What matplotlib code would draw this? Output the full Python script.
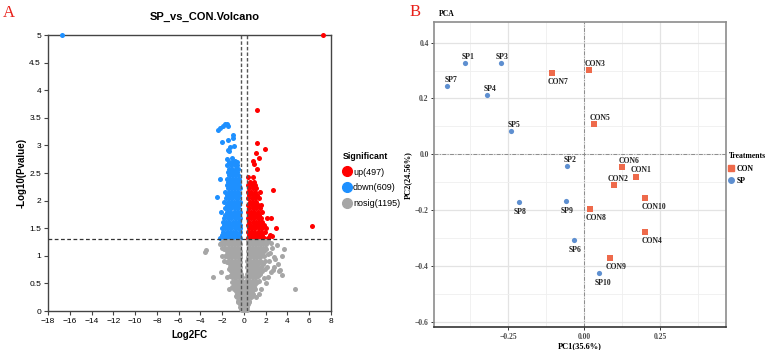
import matplotlib
matplotlib.use('Agg')
import matplotlib.pyplot as plt
from matplotlib.lines import Line2D

# ---------------- Panel A: volcano (Log2FC, -log10 Pvalue) ----------------
# rows: -log10(P) -> list of Log2FC values
up_rows = {
    1.32: [0.35, 0.65, 0.95, 1.25, 1.55, 1.85, 2.2],
    1.38: [0.5, 0.8, 1.1, 1.4, 1.7, 2.4],
    1.44: [0.35, 0.65, 0.95, 1.25, 1.55, 1.9],
    1.50: [0.45, 0.75, 1.05, 1.35, 1.65, 2.0, 2.96],
    1.56: [0.35, 0.6, 0.9, 1.2, 1.5, 1.8],
    1.62: [0.5, 0.8, 1.1, 1.4, 1.7],
    1.68: [0.35, 0.65, 0.95, 1.25, 1.55, 2.11, 2.48],
    1.74: [0.5, 0.8, 1.1, 1.4],
    1.80: [0.35, 0.65, 0.95, 1.3, 1.65],
    1.86: [0.5, 0.8, 1.1, 1.45],
    1.92: [0.35, 0.7, 1.0, 1.3, 1.6],
    1.98: [0.55, 0.85, 1.15],
    2.04: [0.35, 0.7, 1.0, 1.35],
    2.10: [0.5, 0.85, 1.2],
    2.16: [0.35, 0.65, 1.0, 1.5],
    2.22: [0.5, 0.8, 1.15],
    2.28: [0.35, 0.7, 1.05],
    2.34: [0.55, 0.9],
    2.42: [0.4, 0.87],
}
up_extra = [(2.66, 2.19), (6.25, 1.54), (2.57, 1.35), (0.82, 2.72), (0.94, 2.66),
            (1.19, 2.57), (1.24, 3.65), (1.24, 3.05), (1.95, 2.93), (1.10, 2.87),
            (1.43, 2.78), (7.23, 5.0)]

down_rows = {
    1.32: [-2.2, -1.85, -1.55, -1.2, -0.9, -0.6, -0.35],
    1.38: [-2.0, -1.7, -1.4, -1.05, -0.75, -0.45],
    1.44: [-1.9, -1.6, -1.3, -1.0, -0.7, -0.38],
    1.50: [-2.05, -1.75, -1.45, -1.15, -0.85, -0.55, -0.33],
    1.56: [-1.85, -1.5, -1.2, -0.9, -0.6, -0.4],
    1.62: [-1.95, -1.65, -1.35, -1.0, -0.7, -0.45],
    1.68: [-1.8, -1.5, -1.15, -0.85, -0.55, -0.35],
    1.74: [-1.7, -1.4, -1.1, -0.8, -0.5],
    1.80: [-2.1, -1.6, -1.3, -0.95, -0.65, -0.4],
    1.86: [-1.75, -1.45, -1.15, -0.85, -0.55],
    1.92: [-1.6, -1.3, -1.0, -0.7, -0.45],
    1.98: [-1.8, -1.5, -1.2, -0.9, -0.6, -0.36],
    2.04: [-1.65, -1.35, -1.05, -0.75, -0.5],
    2.10: [-1.55, -1.25, -0.95, -0.65, -0.42],
    2.16: [-1.7, -1.4, -1.1, -0.8, -0.55],
    2.22: [-1.5, -1.2, -0.9, -0.6, -0.4],
    2.28: [-1.6, -1.3, -1.0, -0.7, -0.48],
    2.34: [-1.45, -1.15, -0.85, -0.55],
    2.40: [-2.2, -1.6, -1.3, -1.0, -0.7, -0.45],
    2.46: [-1.4, -1.1, -0.8, -0.55],
    2.52: [-1.5, -1.2, -0.9, -0.6],
    2.58: [-1.35, -1.05, -0.75, -0.5],
    2.64: [-1.55, -1.2, -0.85, -0.6],
    2.70: [-1.4, -1.1, -0.8, -0.65],
}
down_extra = [(-2.44, 2.07), (-2.19, 3.31), (-1.94, 3.35), (-1.73, 3.39), (-1.55, 3.38),
              (-1.48, 3.36), (-2.35, 3.27), (-2.04, 3.07), (-1.43, 3.10), (-1.02, 3.19),
              (-0.97, 3.13), (-1.48, 2.92), (-1.27, 2.98), (-0.87, 2.99), (-1.35, 2.90),
              (-1.57, 2.76), (-1.11, 2.78), (-0.81, 2.72), (-16.7, 5.0)]

nosig_rows = {
    1.27: [-1.95, -1.65, -1.35, -1.05, -0.75, -0.45, 0.4, 0.7, 1.0, 1.3, 1.6, 1.9, 2.2],
    1.24: [-2.1, -1.5, -1.2, -0.9, -0.55, 0.5, 0.85, 1.2, 1.5, 1.85, 2.45],
    1.21: [-1.8, -1.5, -1.2, -0.9, -0.6, -0.35, 0.35, 0.55, 0.85, 1.15, 1.45, 1.75, 2.05],
    1.15: [-1.7, -1.4, -1.1, -0.8, -0.5, 0.45, 0.7, 1.0, 1.3, 1.6, 1.9],
    1.12: [-1.85, -1.55, -1.25, -0.95, -0.6, 0.55, 0.85, 1.15, 1.45, 1.75, 2.05],
    1.09: [-1.6, -1.3, -1.0, -0.7, -0.4, 0.35, 0.6, 0.9, 1.2, 1.5, 1.8],
    1.03: [-1.55, -1.25, -0.95, -0.65, -0.38, 0.45, 0.75, 1.05, 1.35, 1.65, 2.2],
    1.00: [-1.7, -1.3, -1.05, -0.75, -0.45, 0.5, 0.8, 1.1, 1.4, 1.8],
    0.97: [-1.45, -1.15, -0.85, -0.55, -0.32, 0.35, 0.6, 0.9, 1.2, 1.5],
    0.91: [-1.4, -1.1, -0.8, -0.5, 0.3, 0.55, 0.85, 1.15, 1.45, 1.9],
    0.88: [-1.55, -1.2, -0.9, -0.6, -0.35, 0.5, 0.8, 1.1, 1.4, 1.6],
    0.85: [-1.3, -1.0, -0.7, -0.45, 0.4, 0.7, 1.0, 1.3, 1.75],
    0.79: [-1.25, -0.95, -0.65, -0.35, 0.3, 0.6, 0.9, 1.2, 1.55],
    0.76: [-1.4, -1.1, -0.8, -0.5, 0.45, 0.75, 1.05, 1.4, 1.9],
    0.73: [-1.2, -0.9, -0.6, -0.32, 0.35, 0.65, 0.95, 1.3, 1.7],
    0.67: [-1.1, -0.8, -0.5, -0.28, 0.3, 0.55, 0.85, 1.15, 1.45],
    0.64: [-1.25, -0.95, -0.65, -0.38, 0.4, 0.7, 1.0, 1.3],
    0.61: [-1.05, -0.75, -0.45, -0.22, 0.25, 0.5, 0.8, 1.1],
    0.55: [-0.95, -0.7, -0.42, -0.2, 0.2, 0.45, 0.75, 1.05, 1.4],
    0.52: [-1.1, -0.8, -0.55, -0.3, 0.32, 0.6, 0.9, 1.2],
    0.49: [-0.9, -0.65, -0.38, -0.15, 0.2, 0.45, 0.7, 1.0],
    0.43: [-0.85, -0.55, -0.3, -0.1, 0.15, 0.4, 0.65, 0.9],
    0.40: [-0.95, -0.65, -0.4, -0.2, 0.3, 0.55, 0.8, 1.05],
    0.37: [-0.75, -0.5, -0.25, 0.0, 0.25, 0.5, 0.75],
    0.31: [-0.65, -0.4, -0.15, 0.1, 0.35, 0.6, 0.85],
    0.28: [-0.75, -0.5, -0.25, 0.0, 0.25, 0.5, 0.75],
    0.25: [-0.6, -0.35, -0.1, 0.15, 0.4, 0.65, 1.1],
    0.19: [-0.5, -0.25, 0.0, 0.25, 0.5],
    0.16: [-0.55, -0.3, -0.05, 0.2, 0.45],
    0.13: [-0.4, -0.15, 0.1, 0.35],
    0.10: [-0.25, 0.0, 0.2],
    0.07: [-0.35, -0.1, 0.15, 0.3],
    0.04: [-0.3, -0.05, 0.15],
    0.02: [-0.2, 0.05, 0.25],
}
nosig_extra = [(-3.57, 1.07), (-3.45, 1.10), (-2.04, 1.14), (-2.86, 0.62), (-2.13, 0.71),
               (-1.11, 0.44), (3.03, 1.20), (3.70, 1.12), (3.49, 1.00), (2.72, 0.98),
               (3.33, 0.74), (3.49, 0.66), (4.71, 0.40), (2.1, 0.80), (2.5, 0.70),
               (2.3, 0.90), (1.8, 0.60), (2.8, 0.80), (2.4, 1.05), (2.6, 1.15),
               (2.9, 0.95), (3.1, 0.85), (2.2, 0.62), (2.0, 0.50), (2.7, 0.75),
               (3.2, 0.72), (1.6, 0.40), (1.35, 0.30), (-2.0, 1.0), (-1.8, 0.90),
               (-2.2, 1.22), (-1.6, 0.62), (-1.35, 0.40)]

legend_labels = ['up(497)', 'down(609)', 'nosig(1195)']
volcano_colors = ['#FF0000', '#1E90FF', '#A6A6A6']


def flatten(rows, extra):
    xs, ys = [], []
    for y, row in rows.items():
        xs += row
        ys += [y] * len(row)
    for x, y in extra:
        xs.append(x)
        ys.append(y)
    return xs, ys


# ---------------- Panel B: PCA ----------------
samples = ['SP1', 'SP2', 'SP3', 'SP4', 'SP5', 'SP6', 'SP7', 'SP8', 'SP9', 'SP10',
           'CON1', 'CON2', 'CON3', 'CON4', 'CON5', 'CON6', 'CON7', 'CON8', 'CON9', 'CON10']
group = ['SP'] * 10 + ['CON'] * 10
pc1 = [-0.393, -0.057, -0.275, -0.320, -0.239, -0.034, -0.452, -0.213, -0.060, 0.048,
       0.172, 0.099, 0.016, 0.202, 0.034, 0.125, -0.105, 0.019, 0.086, 0.202]
pc2 = [0.326, -0.043, 0.327, 0.213, 0.084, -0.308, 0.244, -0.171, -0.168, -0.424,
       -0.080, -0.109, 0.302, -0.280, 0.109, -0.044, 0.290, -0.196, -0.372, -0.158]

# label nudges in pixels (dx right, dy up)
nudge = {'SP1': (3, 6), 'SP2': (3, 6), 'SP3': (2, 6), 'SP4': (3, 6), 'SP5': (3, 6),
         'SP6': (1, -10), 'SP7': (4, 6), 'SP8': (1, -10), 'SP9': (1, -10), 'SP10': (4, -10),
         'CON1': (5, 6.5), 'CON2': (4, 6), 'CON3': (6, 6), 'CON4': (7, -9), 'CON5': (6, 6),
         'CON6': (7, 5.5), 'CON7': (6, -9), 'CON8': (6, -9), 'CON9': (6, -9), 'CON10': (8, -9)}

pca_colors = {'CON': '#EE6A4B', 'SP': '#5E8FD0'}
pca_markers = {'CON': 's', 'SP': 'o'}

# ---------------- figure ----------------
fig = plt.figure(figsize=(7.67, 3.5), dpi=100)
W, H = 767, 350


def px_axes(l, t, r, b):
    return fig.add_axes([l / W, 1 - b / H, (r - l) / W, (b - t) / H])


sans = 'Liberation Sans'
serif = 'Liberation Serif'

# ---- A ----
ax = px_axes(48, 35, 331, 311)
for (rows, extra), c in zip([(up_rows, up_extra), (down_rows, down_extra),
                             (nosig_rows, nosig_extra)], volcano_colors):
    xs, ys = flatten(rows, extra)
    ax.scatter(xs, ys, s=13, color=c, linewidths=0, clip_on=False, zorder=3)

ax.axhline(1.301, color='#333333', lw=0.9, ls=(0, (3, 2)), zorder=4)
for v in (-0.263, 0.263):
    ax.axvline(v, color='#555555', lw=1.0, ls=(0, (2.5, 1.5)), zorder=4)

ax.set_xlim(-18, 8)
ax.set_ylim(0, 5)
ax.set_xticks(range(-18, 9, 2))
ax.set_yticks([0, 0.5, 1, 1.5, 2, 2.5, 3, 3.5, 4, 4.5, 5])
ax.set_yticklabels(['0', '0.5', '1', '1.5', '2', '2.5', '3', '3.5', '4', '4.5', '5'])
for sp in ax.spines.values():
    sp.set_color('#444444')
    sp.set_linewidth(1.0)
ax.tick_params(length=3, width=0.8, color='#444444', labelsize=6, pad=2)
for lab in ax.get_xticklabels() + ax.get_yticklabels():
    lab.set_fontfamily(sans)
ax.set_xlabel('Log2FC', fontsize=7, fontweight='bold', fontfamily=sans, labelpad=4)
ax.set_ylabel('-Log10(Pvalue)', fontsize=7, fontweight='bold', fontfamily=sans, labelpad=2)
fig.text(205 / W, 1 - 17 / H, 'SP_vs_CON.Volcano', fontsize=8, fontweight='bold',
         fontfamily=sans, ha='center', va='center')

handles = [Line2D([], [], marker='o', ls='', color=c, markersize=7) for c in volcano_colors]
leg = ax.legend(handles, legend_labels, title='Significant', loc='upper left',
                bbox_to_anchor=(1.03, 0.59), frameon=False, handlelength=0.9,
                handletextpad=0.2, labelspacing=0.75, borderaxespad=0,
                prop={'family': sans, 'size': 6.5})
leg.get_title().set_fontweight('bold')
leg.get_title().set_fontfamily(sans)
leg.get_title().set_fontsize(6.3)
leg._legend_box.align = 'left'

fig.text(3 / W, 1 - 13 / H, 'A', color='#E8201A', fontsize=12, fontfamily=serif,
         ha='left', va='center')

# ---- B ----
bx = px_axes(434.3, 22.3, 725.7, 327.3)
bx.set_xlim(-0.493, 0.466)
bx.set_ylim(-0.62, 0.473)
bx.set_xticks([-0.25, 0.0, 0.25])
bx.set_xticklabels(['\u22120.25', '0.00', '0.25'])
bx.set_xticks([-0.375, -0.125, 0.125, 0.375], minor=True)
bx.set_yticks([-0.6, -0.4, -0.2, 0.0, 0.2, 0.4])
bx.set_yticklabels(['\u22120.6', '\u22120.4', '\u22120.2', '0.0', '0.2', '0.4'])
bx.set_yticks([-0.5, -0.3, -0.1, 0.1, 0.3], minor=True)
bx.grid(which='major', color='#E3E3E3', lw=0.9)
bx.grid(which='minor', color='#EFEFEF', lw=0.6)
bx.set_axisbelow(True)
bx.tick_params(which='minor', length=0)
bx.tick_params(which='major', length=2.5, width=0.7, color='#333333', labelsize=5.5,
               labelcolor='#4D4D4D', pad=1.5)
for lab in bx.get_xticklabels() + bx.get_yticklabels():
    lab.set_fontfamily(serif)
    lab.set_fontweight('bold')
for sp in bx.spines.values():
    sp.set_color('#8C8C8C')
    sp.set_linewidth(1.2)
bx.spines['bottom'].set_color('#333333')

bx.axvline(0, color='#8C8C8C', lw=0.7, ls=(0, (4, 1.5, 1, 1.5)), zorder=1)
bx.axhline(0, color='#8C8C8C', lw=0.7, ls=(0, (4, 1.5, 1, 1.5)), zorder=1)

for g in ['CON', 'SP']:
    idx = [i for i, k in enumerate(group) if k == g]
    bx.scatter([pc1[i] for i in idx], [pc2[i] for i in idx], s=14, marker=pca_markers[g],
               color=pca_colors[g], linewidths=0, zorder=3)

for name, x, y in zip(samples, pc1, pc2):
    dx, dy = nudge[name]
    bx.annotate(name, (x, y), xytext=(dx * 0.72, dy * 0.72), textcoords='offset points',
                ha='center', va='center', fontsize=5.5, fontweight='bold',
                fontfamily=serif, color='#222222', zorder=4)

bx.set_xlabel('PC1(35.6%)', fontsize=6, fontweight='bold', fontfamily=serif, labelpad=1)
bx.set_ylabel('PC2(24.56%)', fontsize=6, fontweight='bold', fontfamily=serif, labelpad=2)

h2 = [Line2D([], [], marker=pca_markers[g], ls='', color=pca_colors[g], markersize=4)
      for g in ['CON', 'SP']]
leg2 = bx.legend(h2, ['CON', 'SP'], title='Treatments', loc='upper left',
                 bbox_to_anchor=(1.0, 0.585), frameon=False, handlelength=0.6,
                 handletextpad=0.4, labelspacing=0.6, borderaxespad=0,
                 prop={'family': serif, 'size': 5.5, 'weight': 'bold'})
leg2.get_title().set_fontweight('bold')
leg2.get_title().set_fontfamily(serif)
leg2.get_title().set_fontsize(5.5)
leg2._legend_box.align = 'left'

fig.text(439 / W, 1 - 14 / H, 'PCA', fontsize=5.5, fontweight='bold', fontfamily=serif,
         ha='left', va='center')
fig.text(410 / W, 1 - 12 / H, 'B', color='#E8201A', fontsize=12, fontfamily=serif,
         ha='left', va='center')

fig.savefig('out.png', dpi=100)
